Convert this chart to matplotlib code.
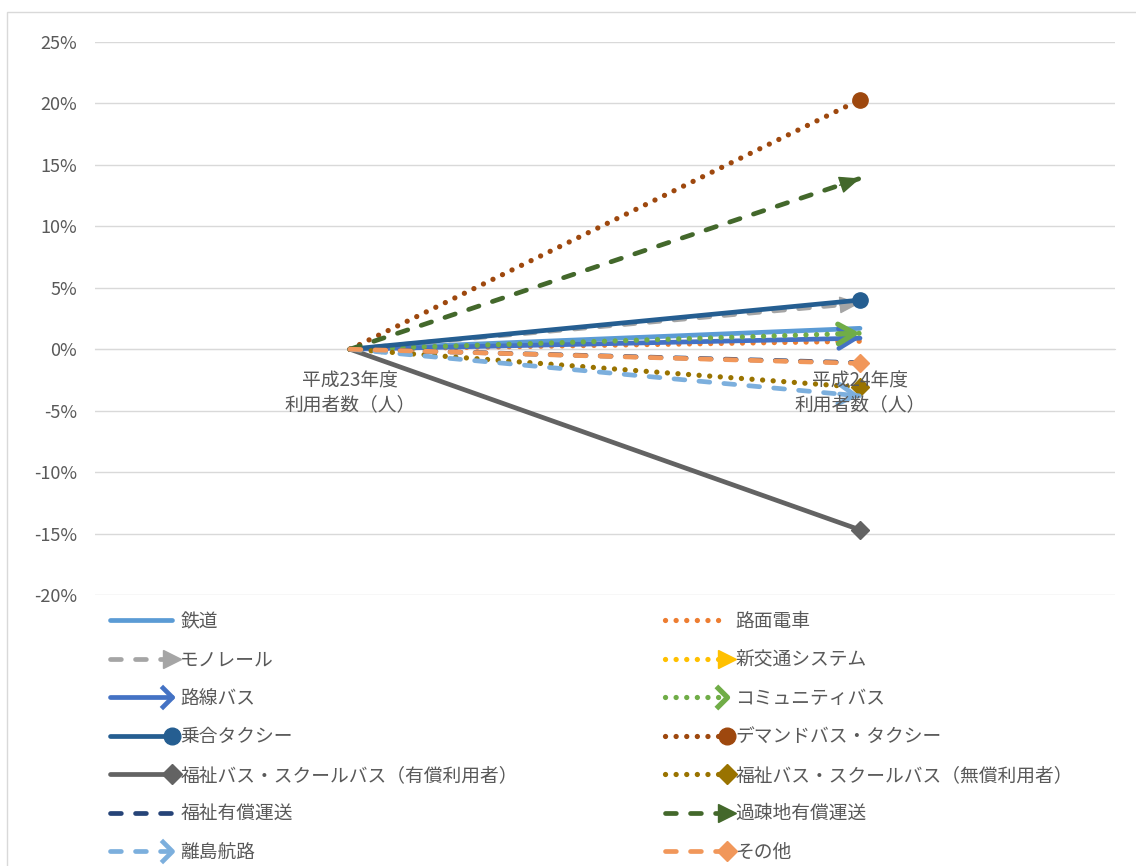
import matplotlib
matplotlib.use('Agg')
import matplotlib.pyplot as plt
from matplotlib.lines import Line2D
from matplotlib.path import Path
from matplotlib.patches import Rectangle
from matplotlib.legend_handler import HandlerLine2D

plt.rcParams['font.family'] = ['Noto Sans CJK JP', 'DejaVu Sans']

years = ['平成23年度\n利用者数（人）', '平成24年度\n利用者数（人）']
names = ['鉄道', '路面電車', 'モノレール', '新交通システム', '路線バス', 'コミュニティバス',
         '乗合タクシー', 'デマンドバス・タクシー', '福祉バス・スクールバス（有償利用者）',
         '福祉バス・スクールバス（無償利用者）', '福祉有償運送', '過疎地有償運送', '離島航路', 'その他']
# change vs. H23 (%), H23 is the base = 0; 新交通システム has no line drawn
h23 = [0, 0, 0, None, 0, 0, 0, 0, 0, 0, 0, 0, 0, 0]
h24 = [1.7, 0.65, 3.75, None, 0.9, 1.3, 4.0, 20.3, -14.7, -3.1, -1.1, 13.9, -3.8, -1.15]

colors = ['#5B9BD5', '#ED7D31', '#A5A5A5', '#FFC000', '#4472C4', '#70AD47', '#255E91',
          '#9E480E', '#636363', '#997300', '#264478', '#43682B', '#7CAFDD', '#F1975A']
styles = ['solid', 'dot', 'dash', 'dot', 'solid', 'dot', 'solid', 'dot', 'solid', 'dot',
          'dash', 'dash', 'dash', 'dash']
ends = [None, None, 'tri', 'tri', 'open', 'open', 'o', 'o', 'D', 'D', None, 'tri', 'open', 'D']

dash = {'solid': '-', 'dot': (0, (0.01, 2.0)), 'dash': (0, (2.3, 3.0))}
widths = {'solid': 3.4, 'dot': 3.8, 'dash': 3.4}
chevron = Path([(-1, 1), (0, 0), (-1, -1)], [Path.MOVETO, Path.LINETO, Path.LINETO])
grey = '#595959'
fs = 13.5


class EndMarker(HandlerLine2D):
    # marker only at the right end of the legend sample
    def create_artists(self, *args, **kwargs):
        arts = super().create_artists(*args, **kwargs)
        arts[0].set_markevery([len(arts[0].get_xdata()) - 1])
        return arts


fig = plt.figure(figsize=(11.36, 8.66), dpi=100)
ax = fig.add_axes([95 / 1136, 1 - 595 / 866, 1020 / 1136, 553 / 866])

x = [0, 1]
for i in range(len(names)):
    if h24[i] is None:
        continue
    lw = widths[styles[i]]
    ax.plot(x, [h23[i], h24[i]], color=colors[i], ls=dash[styles[i]], lw=lw,
            dash_capstyle='round', solid_capstyle='round', zorder=3 + i)
    e = ends[i]
    if e in ('o', 'D'):
        ax.plot([1], [h24[i]], marker=e, color=colors[i], ms=11 if e == 'o' else 9.5,
                zorder=3 + i)
    elif e is not None:
        # short segment just before the end, only to carry the arrow head
        t = 0.96
        p = (t, h23[i] + t * (h24[i] - h23[i]))
        if e == 'tri':
            ap = dict(arrowstyle='-|>,head_length=1.3,head_width=0.55', color=colors[i],
                      lw=1, shrinkA=0, shrinkB=0)
        else:
            ap = dict(arrowstyle='->,head_length=1.2,head_width=0.7', color=colors[i],
                      lw=lw, shrinkA=0, shrinkB=0, capstyle='round', joinstyle='round')
        ax.annotate('', xy=(1, h24[i]), xytext=p, arrowprops=ap, zorder=3 + i,
                    annotation_clip=False)

ax.set_xlim(-0.5, 1.5)
ax.set_ylim(-20, 25)
ax.set_yticks(range(-20, 30, 5))
ax.set_yticklabels([f'{v}%' for v in range(-20, 30, 5)])
ax.set_xticks(x)
ax.set_xticklabels(years)
ax.grid(axis='y', color='#D9D9D9', lw=1)
ax.set_axisbelow(True)
ax.xaxis.set_zorder(30)
for s in ['top', 'right', 'left']:
    ax.spines[s].set_visible(False)
ax.spines['bottom'].set_position(('data', 0))
ax.spines['bottom'].set_color('#D9D9D9')
ax.spines['bottom'].set_zorder(1)
ax.tick_params(axis='y', length=0, pad=13, labelsize=13, labelcolor=grey)
ax.tick_params(axis='x', length=0, pad=15.5, labelsize=fs, labelcolor=grey)
for lb in ax.get_xticklabels():
    lb.set_linespacing(1.15)

# legend, two columns filled row by row
handles = []
for i in range(len(names)):
    e = ends[i]
    lw = widths[styles[i]]
    kw = dict(color=colors[i], ls=dash[styles[i]], lw=lw, dash_capstyle='round',
              solid_capstyle='round')
    if e == 'o':
        kw.update(marker='o', ms=12)
    elif e == 'D':
        kw.update(marker='D', ms=10)
    elif e == 'tri':
        kw.update(marker='>', ms=13)
    elif e == 'open':
        kw.update(marker=chevron, ms=16, mfc='none', mew=lw)
    handles.append(Line2D([], [], **kw))

legkw = dict(loc='upper left', frameon=False, fontsize=fs, labelcolor=grey,
             handlelength=3.3, handletextpad=0.45, labelspacing=0.93, numpoints=2,
             borderpad=0, borderaxespad=0, handler_map={Line2D: EndMarker(marker_pad=0)})
fig.legend(handles[0::2], names[0::2], bbox_to_anchor=(110 / 1136, 1 - 611 / 866), **legkw)
fig.legend(handles[1::2], names[1::2], bbox_to_anchor=(665 / 1136, 1 - 611 / 866), **legkw)

# chart frame
fig.patches.append(Rectangle((7 / 1136, -0.1), 2, 1.1 - 12 / 866, transform=fig.transFigure,
                             fill=False, edgecolor='#D9D9D9', lw=1))

fig.savefig('out.png', dpi=100)
